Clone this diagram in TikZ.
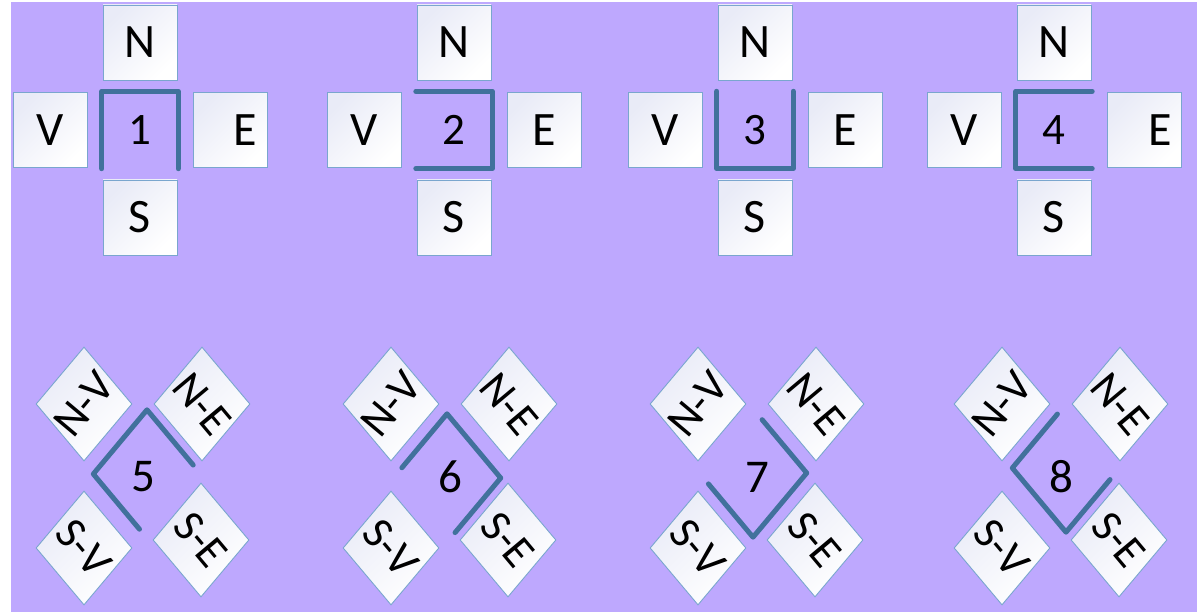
\documentclass[tikz,border=0pt]{standalone}
\usepackage{fontspec}
\setmainfont[Numbers=Lining]{Carlito}
\usepackage{tikz}
\usetikzlibrary{calc,shapes.geometric}
\definecolor{lilac}{RGB}{190,168,254}
\definecolor{wallblue}{RGB}{65,113,156}
\definecolor{edgeblue}{RGB}{122,166,206}
\definecolor{paleshade}{RGB}{233,235,247}
\tikzset{
  card/.style={draw=edgeblue, line width=0.9pt, top color=paleshade, bottom color=white, shading angle=45,
               minimum width=74pt, minimum height=75pt, inner sep=0pt, font=\fontsize{48}{48}\selectfont},
  tile/.style={diamond, draw=edgeblue, line width=0.9pt, top color=paleshade, bottom color=white, shading angle=45,
               minimum width=96pt, minimum height=114pt, inner sep=0pt},
  tag/.style={inner sep=0pt, font=\fontsize{45}{45}\selectfont},
  hold/.style={inner sep=0pt, minimum width=76pt, minimum height=77pt, font=\fontsize{45}{45}\selectfont},
  rhomb/.style={diamond, inner sep=0pt, minimum width=107pt, minimum height=128pt},
  num/.style={inner sep=0pt, font=\fontsize{47}{47}\selectfont},
  wall/.style={draw=wallblue, line width=5pt, line cap=round, line join=round}
}
% one cross of squares: number, x of the centre, push of the E
\newcommand{\crossset}[3]{%
  \node[card] (n#1) at (#2,42.5) {N};
  \node[card] (v#1) at (#2-90,130) {V};
  \node[card] (e#1) at (#2+90,130) {\hspace*{#3}E};
  \node[card] (s#1) at (#2,217.5) {S};
  \node[hold] (q#1) at (#2,130) {#1};}
% one cross of diamonds: number, x of the tiles, centre of the frame
\newcommand{\diamset}[3]{%
  \node[tile] (nv#1) at (#2-59,404) {};
  \node[tile] (ne#1) at (#2+59,404) {};
  \node[tile] (sv#1) at (#2-59,548) {};
  \node[tile] (se#1) at (#2+58,540) {};
  \node[tag, rotate=50] (nvt#1) at (nv#1) {N-V};
  \node[tag, rotate=-50] (net#1) at (ne#1) {N-E};
  \node[tag, rotate=-50] (svt#1) at (sv#1) {S-V};
  \node[tag, rotate=-50] (set#1) at (se#1) {S-E};
  \node[rhomb] (q#1) at (#3) {};
  \node[num] (d#1) at (#2,477) {#1};}

\begin{document}
\begin{tikzpicture}[x=1pt, y=-1pt]
\useasboundingbox (0,0) rectangle (1201,612);
\fill[lilac] (11,2) rectangle (1197,612);
\crossset{1}{140}{30pt}
\crossset{2}{454}{0pt}
\crossset{3}{755}{0pt}
\crossset{4}{1054}{32pt}
\diamset{5}{143}{147,474}
\diamset{6}{450}{447,478}
\diamset{7}{757}{753,473}
\diamset{8}{1061}{1066,468}
% square frames, open below, left, above, right
\draw[wall] (q1.south west) -- (q1.north west) -- (q1.north east) -- (q1.south east);
\draw[wall] (q2.north west) -- (q2.north east) -- (q2.south east) -- (q2.south west);
\draw[wall] (q3.north west) -- (q3.south west) -- (q3.south east) -- (q3.north east);
\draw[wall] (q4.north east) -- (q4.north west) -- (q4.south west) -- (q4.south east);
% slanted frames
\draw[wall] ($(q5.north)!0.86!(q5.east)$) -- (q5.north) -- (q5.west) -- ($(q5.west)!0.86!(q5.south)$);
\draw[wall] ($(q6.north)!0.84!(q6.west)$) -- (q6.north) -- (q6.east) -- ($(q6.east)!0.85!(q6.south)$);
\draw[wall] ($(q7.east)!0.83!(q7.north)$) -- (q7.east) -- (q7.south) -- ($(q7.south)!0.83!(q7.west)$);
\draw[wall] ($(q8.west)!0.84!(q8.north)$) -- (q8.west) -- (q8.south) -- ($(q8.south)!0.82!(q8.east)$);
\end{tikzpicture}
\end{document}
